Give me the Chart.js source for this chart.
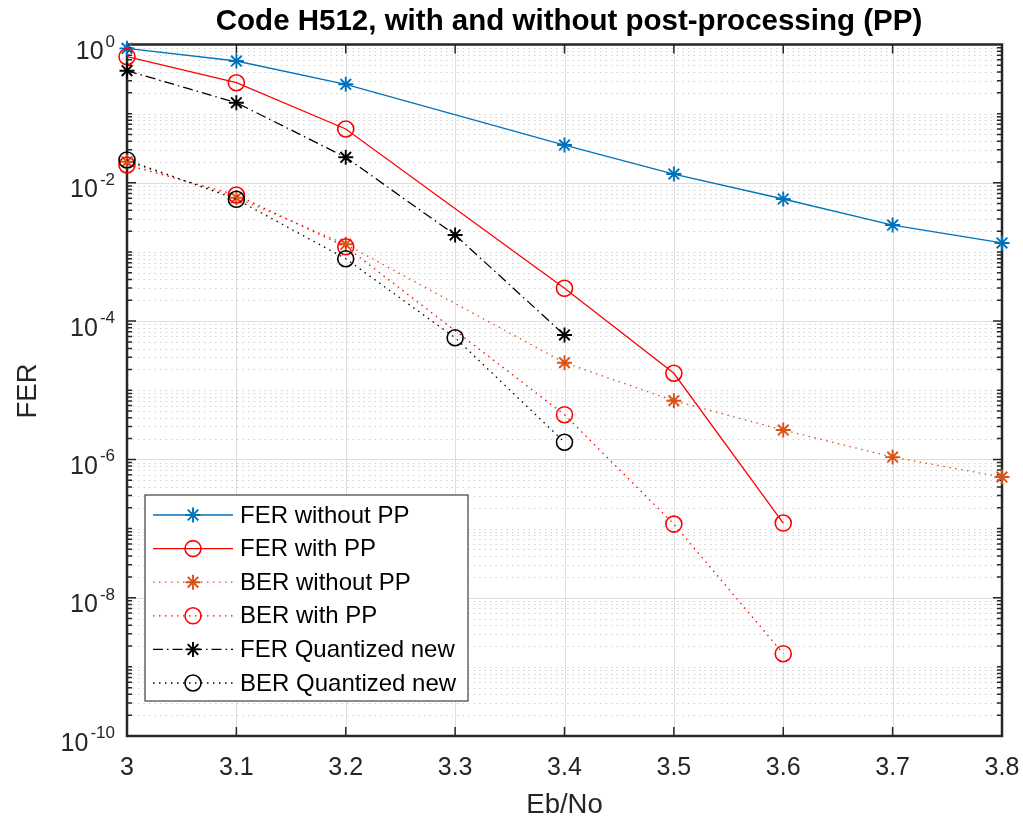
<!DOCTYPE html>
<html lang="en">
<head>
    <meta charset="UTF-8">
    <title>Code H512 FER/BER</title>
    <script src="https://cdn.jsdelivr.net/npm/chart.js@4"></script>
    <style>
        html, body { margin: 0; padding: 0; background: #fff; }
        #chart { display: block; }
    </style>
</head>
<body>
<canvas id="chart" width="1023" height="819"></canvas>
<script>
    // Eb/No points (dB); null means no simulation at that point
    const ebNo = [3.0, 3.1, 3.2, 3.3, 3.4, 3.5, 3.6, 3.7, 3.8];
    const ferWithoutPP = [0.88, 0.577, 0.266, null, 0.0352, 0.0134, 5.83e-3, 2.45e-3, 1.35e-3];
    const ferWithPP    = [0.667, 0.28, 0.06, null, 2.98e-4, 1.76e-5, 1.2e-7, null, null];
    const berWithoutPP = [0.0202, 6.09e-3, 1.29e-3, null, 2.5e-5, 7.06e-6, 2.66e-6, 1.08e-6, 5.56e-7];
    const berWithPP    = [0.0181, 6.66e-3, 1.19e-3, null, 4.43e-6, 1.16e-7, 1.55e-9, null, null];
    const ferQuantized = [0.418, 0.144, 0.0234, 1.76e-3, 6.3e-5, null, null, null, null];
    const berQuantized = [0.0214, 5.77e-3, 7.98e-4, 5.75e-5, 1.77e-6, null, null, null, null];

    const seriesNames = ['FER without PP', 'FER with PP', 'BER without PP', 'BER with PP',
                         'FER Quantized new', 'BER Quantized new'];
    const xTicks = [3, 3.1, 3.2, 3.3, 3.4, 3.5, 3.6, 3.7, 3.8];
    const xTickLabels = ['3', '3.1', '3.2', '3.3', '3.4', '3.5', '3.6', '3.7', '3.8'];
    const yExponents = [0, -2, -4, -6, -8, -10];

    const FONT = "'Liberation Sans', Arial, Helvetica, sans-serif";
    const INK = '#262626';

    const pts = arr => ebNo.map((x, i) => ({ x: x, y: arr[i] })).filter(p => p.y !== null);

    function series(i, arr, color, dash, marker) {
        return {
            label: seriesNames[i],
            data: pts(arr),
            borderColor: color,
            borderWidth: 1.3,
            borderDash: dash,
            pointStyle: marker,
            pointRadius: marker === 'circle' ? 8 : 7.5,
            pointBorderWidth: marker === 'circle' ? 1.6 : 1.9,
            pointBorderColor: color,
            pointBackgroundColor: 'rgba(0,0,0,0)',
            pointHoverRadius: 0,
            tension: 0,
            clip: false,
            order: 5 - i   // later series on top
        };
    }

    const datasets = [
        series(0, ferWithoutPP, '#0072BD', [], 'star'),
        series(1, ferWithPP, '#FF0000', [], 'circle'),
        series(2, berWithoutPP, '#D95319', [1.5, 4.5], 'star'),
        series(3, berWithPP, '#FF0000', [1.5, 4.5], 'circle'),
        series(4, ferQuantized, '#000000', [10, 4, 1.5, 4], 'star'),
        series(5, berQuantized, '#000000', [1.5, 4.5], 'circle')
    ];

    function hline(ctx, a, py) {
        ctx.moveTo(a.left, Math.round(py) + 0.5);
        ctx.lineTo(a.right, Math.round(py) + 0.5);
    }

    // grid, box and inward ticks
    const axesBox = {
        id: 'axesBox',
        beforeDatasetsDraw(chart) {
            const { ctx, chartArea: a, scales: { x, y } } = chart;
            ctx.save();

            // minor grid, dotted
            ctx.lineWidth = 1;
            ctx.strokeStyle = '#d2d2d2';
            ctx.setLineDash([1.5, 4]);
            ctx.beginPath();
            for (let d = -10; d < 0; d++) {
                for (let m = 1; m <= 9; m++) {
                    if (m === 1 && d % 2 === 0) continue;
                    hline(ctx, a, y.getPixelForValue(m * Math.pow(10, d)));
                }
            }
            ctx.stroke();

            // major grid, solid
            ctx.setLineDash([]);
            ctx.strokeStyle = '#dedede';
            ctx.beginPath();
            yExponents.slice(1, -1).forEach(e => hline(ctx, a, y.getPixelForValue(Math.pow(10, e))));
            xTicks.slice(1, -1).forEach(v => {
                const px = Math.round(x.getPixelForValue(v)) + 0.5;
                ctx.moveTo(px, a.top);
                ctx.lineTo(px, a.bottom);
            });
            ctx.stroke();

            // ticks
            ctx.strokeStyle = INK;
            ctx.lineWidth = 1.5;
            ctx.beginPath();
            xTicks.forEach(v => {
                const px = x.getPixelForValue(v);
                ctx.moveTo(px, a.bottom); ctx.lineTo(px, a.bottom - 9);
                ctx.moveTo(px, a.top); ctx.lineTo(px, a.top + 9);
            });
            for (let d = -10; d < 0; d++) {
                for (let m = 1; m <= 9; m++) {
                    const py = y.getPixelForValue(m * Math.pow(10, d));
                    const len = (m === 1 && d % 2 === 0) ? 9 : 5;
                    ctx.moveTo(a.left, py); ctx.lineTo(a.left + len, py);
                    ctx.moveTo(a.right, py); ctx.lineTo(a.right - len, py);
                }
            }
            ctx.stroke();

            ctx.lineWidth = 2.5;
            ctx.strokeRect(a.left, a.top, a.right - a.left, a.bottom - a.top);
            ctx.restore();
        },
        afterDraw(chart) {
            const { ctx, chartArea: a, scales: { x, y } } = chart;
            ctx.save();
            ctx.fillStyle = INK;

            // x tick labels
            ctx.font = '25px ' + FONT;
            ctx.textAlign = 'center';
            ctx.textBaseline = 'alphabetic';
            xTicks.forEach((v, i) => ctx.fillText(xTickLabels[i], x.getPixelForValue(v), a.bottom + 39));

            // y tick labels, 10 with superscript exponent
            ctx.textAlign = 'left';
            yExponents.forEach(e => {
                const py = y.getPixelForValue(Math.pow(10, e));
                const sup = String(e);
                ctx.font = '17px ' + FONT;
                const ws = ctx.measureText(sup).width;
                const sx = a.left - 12 - ws;
                ctx.fillText(sup, sx, py + 2);
                ctx.font = '25px ' + FONT;
                const wb = ctx.measureText('10').width;
                ctx.fillText('10', sx - 2 - wb, py + 14.5);
            });

            // axis titles
            ctx.font = '27.5px ' + FONT;
            ctx.textAlign = 'center';
            ctx.fillText('Eb/No', (a.left + a.right) / 2, 813);
            ctx.save();
            ctx.translate(36, 391);
            ctx.rotate(-Math.PI / 2);
            ctx.fillText('FER', 0, 0);
            ctx.restore();

            // title
            ctx.fillStyle = '#000';
            ctx.font = 'bold 29.5px ' + FONT;
            ctx.fillText('Code H512, with and without post-processing (PP)', 569, 30);
            ctx.restore();
        }
    };

    function drawMarker(ctx, style, r, cx, cy) {
        ctx.beginPath();
        if (style === 'circle') {
            ctx.arc(cx, cy, r, 0, Math.PI * 2);
        } else {
            const k = r * Math.SQRT1_2;
            ctx.moveTo(cx - r, cy); ctx.lineTo(cx + r, cy);
            ctx.moveTo(cx, cy - r); ctx.lineTo(cx, cy + r);
            ctx.moveTo(cx - k, cy - k); ctx.lineTo(cx + k, cy + k);
            ctx.moveTo(cx - k, cy + k); ctx.lineTo(cx + k, cy - k);
        }
        ctx.stroke();
    }

    // legend box inside the axes, lower left
    const boxLegend = {
        id: 'boxLegend',
        afterDatasetsDraw(chart) {
            const ctx = chart.ctx;
            const left = 145, top = 495, right = 468, bottom = 701;
            ctx.save();
            ctx.fillStyle = '#fff';
            ctx.fillRect(left, top, right - left, bottom - top);
            ctx.strokeStyle = '#404040';
            ctx.lineWidth = 1.2;
            ctx.strokeRect(left, top, right - left, bottom - top);

            ctx.font = '24px ' + FONT;
            ctx.textAlign = 'left';
            ctx.textBaseline = 'middle';
            chart.data.datasets.forEach((ds, i) => {
                const cy = 515 + i * 33.6;
                ctx.strokeStyle = ds.borderColor;
                ctx.lineWidth = ds.borderWidth;
                ctx.setLineDash(ds.borderDash);
                ctx.beginPath();
                ctx.moveTo(153, cy); ctx.lineTo(233, cy);
                ctx.stroke();
                ctx.setLineDash([]);
                ctx.lineWidth = ds.pointBorderWidth;
                drawMarker(ctx, ds.pointStyle, ds.pointRadius, 193, cy);
                ctx.fillStyle = '#000';
                ctx.fillText(ds.label, 240, cy + 1);
            });
            ctx.restore();
        }
    };

    new Chart(document.getElementById('chart'), {
        type: 'line',
        data: { datasets: datasets },
        options: {
            responsive: false,
            animation: false,
            devicePixelRatio: 1,
            layout: { padding: { left: 127, top: 44.5, right: 21, bottom: 83 } },
            scales: {
                x: { type: 'linear', min: 3, max: 3.8, display: false },
                y: { type: 'logarithmic', min: 1e-10, max: 1, display: false }
            },
            plugins: {
                legend: { display: false },
                tooltip: { enabled: false }
            }
        },
        plugins: [axesBox, boxLegend]
    });
</script>
</body>
</html>
